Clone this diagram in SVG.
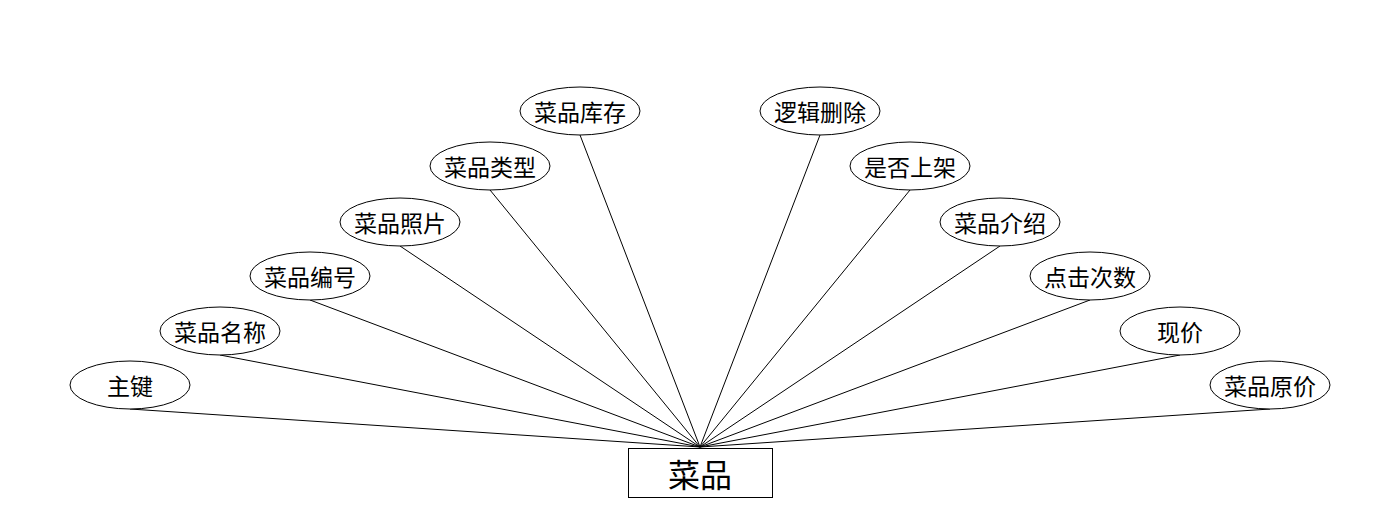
<svg xmlns="http://www.w3.org/2000/svg" width="1400" height="528" viewBox="0 0 1400 528">
<style>
.e{fill:#fff;stroke:#000;stroke-width:1}
.t{font-family:"Noto Sans CJK SC","Liberation Sans",sans-serif;font-size:23px;text-anchor:middle;dominant-baseline:central;fill:#000}
.c line{stroke:#000;stroke-width:1}
</style>
<rect width="1400" height="528" fill="#fff"/>
<g class="c" id="connectors">
<line x1="130" y1="409" x2="700" y2="447"/>
<line x1="220" y1="355" x2="700" y2="447"/>
<line x1="310" y1="300" x2="700" y2="447"/>
<line x1="400" y1="246" x2="700" y2="447"/>
<line x1="490" y1="190" x2="700" y2="447"/>
<line x1="580" y1="135" x2="700" y2="447"/>
<line x1="820" y1="135" x2="700" y2="447"/>
<line x1="910" y1="190" x2="700" y2="447"/>
<line x1="1000" y1="246" x2="700" y2="447"/>
<line x1="1090" y1="300" x2="700" y2="447"/>
<line x1="1180" y1="355" x2="700" y2="447"/>
<line x1="1270" y1="409" x2="700" y2="447"/>
</g>
<g id="n0"><ellipse class="e" cx="130" cy="385" rx="60" ry="24"/><text class="t" x="130" y="385">主键</text></g>
<g id="n1"><ellipse class="e" cx="220" cy="331" rx="60" ry="24"/><text class="t" x="220" y="331">菜品名称</text></g>
<g id="n2"><ellipse class="e" cx="310" cy="276" rx="60" ry="24"/><text class="t" x="310" y="276">菜品编号</text></g>
<g id="n3"><ellipse class="e" cx="400" cy="222" rx="60" ry="24"/><text class="t" x="400" y="222">菜品照片</text></g>
<g id="n4"><ellipse class="e" cx="490" cy="166" rx="60" ry="24"/><text class="t" x="490" y="166">菜品类型</text></g>
<g id="n5"><ellipse class="e" cx="580" cy="111" rx="60" ry="24"/><text class="t" x="580" y="111">菜品库存</text></g>
<g id="n6"><ellipse class="e" cx="820" cy="111" rx="60" ry="24"/><text class="t" x="820" y="111">逻辑删除</text></g>
<g id="n7"><ellipse class="e" cx="910" cy="166" rx="60" ry="24"/><text class="t" x="910" y="166">是否上架</text></g>
<g id="n8"><ellipse class="e" cx="1000" cy="222" rx="60" ry="24"/><text class="t" x="1000" y="222">菜品介绍</text></g>
<g id="n9"><ellipse class="e" cx="1090" cy="276" rx="60" ry="24"/><text class="t" x="1090" y="276">点击次数</text></g>
<g id="n10"><ellipse class="e" cx="1180" cy="331" rx="60" ry="24"/><text class="t" x="1180" y="331">现价</text></g>
<g id="n11"><ellipse class="e" cx="1270" cy="385" rx="60" ry="24"/><text class="t" x="1270" y="385">菜品原价</text></g>
<g id="main"><rect x="628.5" y="448.5" width="144" height="49" fill="#fff" stroke="#000"/><text class="t" x="700" y="473" style="font-size:32px">菜品</text></g>
</svg>
